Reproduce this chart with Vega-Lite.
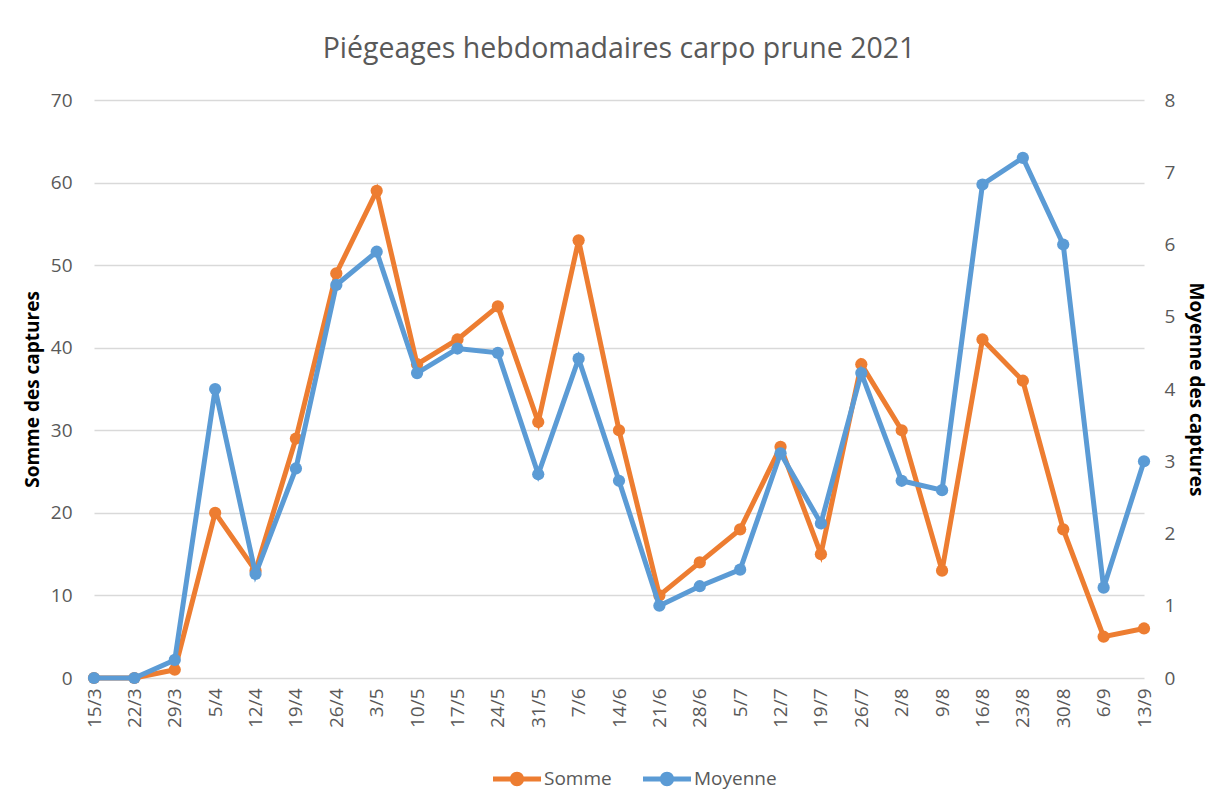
{
  "$schema": "https://vega.github.io/schema/vega-lite/v6.json",
  "width": 1050,
  "height": 578,
  "autosize": {"type": "none"},
  "padding": {"left": 94, "top": 100, "right": 75, "bottom": 127},
  "background": "white",
  "title": {
    "text": "Piégeages hebdomadaires carpo prune 2021",
    "font": "Open Sans",
    "fontSize": 28.5,
    "fontWeight": "normal",
    "color": "#595959",
    "anchor": "middle",
    "offset": 28
  },
  "config": {
    "view": {"stroke": null},
    "font": "Open Sans",
    "axis": {
      "labelFont": "Open Sans",
      "labelFontSize": 19,
      "labelColor": "#595959",
      "titleFont": "Open Sans",
      "titleFontSize": 19,
      "titleFontWeight": "bold",
      "titleColor": "#000000",
      "ticks": false,
      "domain": false,
      "gridColor": "#D9D9D9",
      "gridWidth": 1.3
    }
  },
  "data": {
    "values": [
      {"semaine": "15/3", "somme": 0, "moyenne": 0},
      {"semaine": "22/3", "somme": 0, "moyenne": 0},
      {"semaine": "29/3", "somme": 1, "moyenne": 0.25},
      {"semaine": "5/4", "somme": 20, "moyenne": 4.0},
      {"semaine": "12/4", "somme": 13, "moyenne": 1.44},
      {"semaine": "19/4", "somme": 29, "moyenne": 2.9},
      {"semaine": "26/4", "somme": 49, "moyenne": 5.44},
      {"semaine": "3/5", "somme": 59, "moyenne": 5.9},
      {"semaine": "10/5", "somme": 38, "moyenne": 4.22},
      {"semaine": "17/5", "somme": 41, "moyenne": 4.56},
      {"semaine": "24/5", "somme": 45, "moyenne": 4.5},
      {"semaine": "31/5", "somme": 31, "moyenne": 2.82},
      {"semaine": "7/6", "somme": 53, "moyenne": 4.42},
      {"semaine": "14/6", "somme": 30, "moyenne": 2.73},
      {"semaine": "21/6", "somme": 10, "moyenne": 1.0},
      {"semaine": "28/6", "somme": 14, "moyenne": 1.27},
      {"semaine": "5/7", "somme": 18, "moyenne": 1.5},
      {"semaine": "12/7", "somme": 28, "moyenne": 3.11},
      {"semaine": "19/7", "somme": 15, "moyenne": 2.14},
      {"semaine": "26/7", "somme": 38, "moyenne": 4.22},
      {"semaine": "2/8", "somme": 30, "moyenne": 2.73},
      {"semaine": "9/8", "somme": 13, "moyenne": 2.6},
      {"semaine": "16/8", "somme": 41, "moyenne": 6.83},
      {"semaine": "23/8", "somme": 36, "moyenne": 7.2},
      {"semaine": "30/8", "somme": 18, "moyenne": 6.0},
      {"semaine": "6/9", "somme": 5, "moyenne": 1.25},
      {"semaine": "13/9", "somme": 6, "moyenne": 3.0}
    ]
  },
  "encoding": {
    "x": {
      "field": "semaine",
      "type": "nominal",
      "sort": null,
      "scale": {"type": "point", "padding": 0},
      "axis": {"title": null, "labelAngle": -90, "labelPadding": 10, "grid": false}
    }
  },
  "layer": [
    {
      "mark": {"type": "line", "strokeWidth": 5, "point": {"filled": true, "size": 150}},
      "encoding": {
        "y": {
          "field": "somme",
          "type": "quantitative",
          "scale": {"domain": [0, 70], "nice": false},
          "axis": {
            "title": "Somme des captures",
            "values": [0, 10, 20, 30, 40, 50, 60, 70],
            "grid": true,
            "labelPadding": 22,
            "titlePadding": 8
          }
        },
        "color": {
          "datum": "Somme",
          "scale": {"domain": ["Somme", "Moyenne"], "range": ["#ED7D31", "#5B9BD5"]},
          "legend": {
            "title": null,
            "orient": "none",
            "direction": "horizontal",
            "legendX": 399,
            "legendY": 655,
            "symbolType": "M-1,-0.1L1,-0.1L1,0.1L-1,0.1Z M0.3,0A0.3,0.3 0 1,1 -0.3,0A0.3,0.3 0 1,1 0.3,0Z",
            "symbolSize": 2304,
            "labelFont": "Open Sans",
            "labelFontSize": 19,
            "labelColor": "#595959",
            "labelOffset": 3,
            "columnPadding": 31,
            "encode": {
              "symbols": {
                "update": {
                  "fill": {"scale": "color", "field": "value"},
                  "stroke": {"value": "transparent"},
                  "strokeWidth": {"value": 0},
                  "opacity": {"value": 1}
                }
              }
            }
          }
        }
      }
    },
    {
      "mark": {"type": "line", "strokeWidth": 5, "point": {"filled": true, "size": 150}},
      "encoding": {
        "y": {
          "field": "moyenne",
          "type": "quantitative",
          "scale": {"domain": [0, 8], "nice": false},
          "axis": {
            "title": "Moyenne des captures",
            "orient": "right",
            "values": [0, 1, 2, 3, 4, 5, 6, 7, 8],
            "grid": false,
            "labelPadding": 20,
            "titlePadding": 11
          }
        },
        "color": {"datum": "Moyenne"}
      }
    }
  ],
  "resolve": {"scale": {"y": "independent"}}
}
